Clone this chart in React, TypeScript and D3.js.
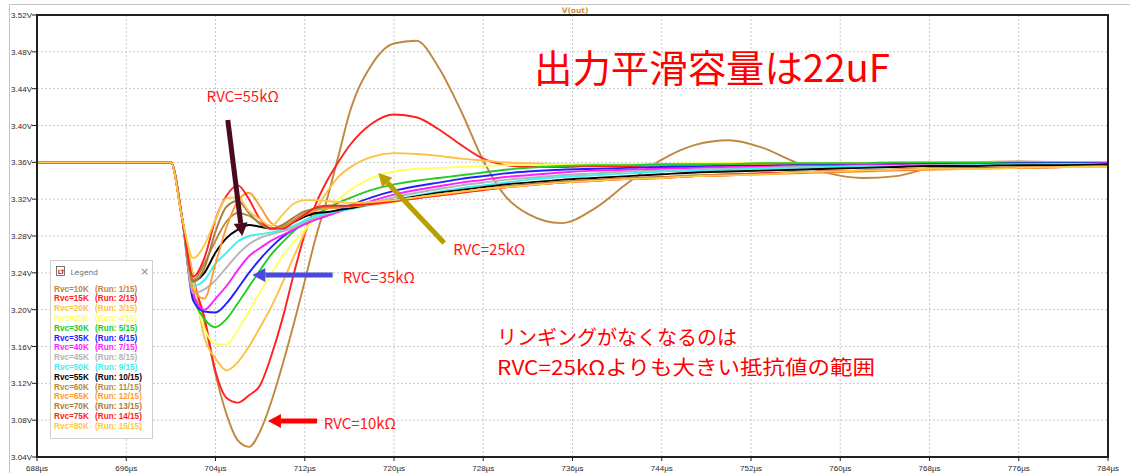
import * as d3 from "d3";

// time axis (µs) shared by every run
const times = [688, 700, 701, 702, 703, 704, 705, 706, 707, 708, 709, 710, 711, 712, 713, 714, 715, 716, 718, 720, 722, 724, 726, 728, 730, 732, 735, 738, 741, 744, 747, 750, 753, 756, 759, 762, 765, 768, 772, 776, 780, 784];

// V(out) for each .step run
const rvc10 = [3.36, 3.36, 3.30, 3.236, 3.187, 3.13, 3.086, 3.058, 3.051, 3.068, 3.1, 3.14, 3.184, 3.231, 3.279, 3.32, 3.366, 3.413, 3.466, 3.489, 3.492, 3.463, 3.416, 3.362, 3.323, 3.304, 3.294, 3.31, 3.338, 3.363, 3.379, 3.384, 3.376, 3.36, 3.348, 3.343, 3.345, 3.354, 3.36, 3.361, 3.36, 3.358];
const rvc15 = [3.36, 3.36, 3.30, 3.232, 3.192, 3.133, 3.104, 3.099, 3.107, 3.118, 3.15, 3.19, 3.238, 3.282, 3.315, 3.34, 3.36, 3.378, 3.402, 3.412, 3.409, 3.396, 3.379, 3.364, 3.357, 3.355, 3.355, 3.356, 3.356, 3.357, 3.357, 3.357, 3.358, 3.358, 3.358, 3.358, 3.358, 3.359, 3.359, 3.359, 3.359, 3.359];
const rvc20 = [3.36, 3.36, 3.30, 3.235, 3.17, 3.147, 3.134, 3.143, 3.16, 3.181, 3.203, 3.229, 3.257, 3.284, 3.308, 3.328, 3.344, 3.354, 3.366, 3.37, 3.369, 3.367, 3.364, 3.362, 3.36, 3.359, 3.358, 3.358, 3.358, 3.358, 3.358, 3.359, 3.359, 3.359, 3.359, 3.359, 3.359, 3.36, 3.36, 3.36, 3.36, 3.36];
const rvc25 = [3.36, 3.36, 3.30, 3.225, 3.18, 3.163, 3.162, 3.178, 3.198, 3.219, 3.239, 3.258, 3.273, 3.287, 3.299, 3.31, 3.32, 3.329, 3.343, 3.35, 3.353, 3.354, 3.355, 3.356, 3.357, 3.357, 3.358, 3.358, 3.358, 3.358, 3.359, 3.359, 3.359, 3.359, 3.359, 3.36, 3.36, 3.36, 3.36, 3.36, 3.36, 3.36];
const rvc30 = [3.36, 3.36, 3.30, 3.215, 3.19, 3.181, 3.19, 3.207, 3.225, 3.243, 3.26, 3.273, 3.285, 3.295, 3.303, 3.31, 3.316, 3.321, 3.33, 3.336, 3.34, 3.343, 3.346, 3.349, 3.352, 3.354, 3.356, 3.357, 3.357, 3.358, 3.358, 3.358, 3.359, 3.359, 3.359, 3.359, 3.36, 3.36, 3.36, 3.36, 3.36, 3.36];
const rvc35 = [3.36, 3.36, 3.30, 3.21, 3.198, 3.197, 3.207, 3.223, 3.24, 3.255, 3.268, 3.279, 3.287, 3.293, 3.298, 3.302, 3.308, 3.313, 3.322, 3.329, 3.334, 3.338, 3.342, 3.345, 3.348, 3.35, 3.352, 3.353, 3.354, 3.355, 3.355, 3.356, 3.356, 3.357, 3.357, 3.357, 3.358, 3.358, 3.358, 3.359, 3.359, 3.359];
const rvc40 = [3.36, 3.36, 3.30, 3.218, 3.2, 3.212, 3.226, 3.243, 3.258, 3.267, 3.275, 3.281, 3.287, 3.293, 3.298, 3.302, 3.306, 3.31, 3.318, 3.325, 3.33, 3.334, 3.338, 3.341, 3.344, 3.346, 3.349, 3.351, 3.352, 3.353, 3.354, 3.355, 3.355, 3.356, 3.356, 3.357, 3.357, 3.357, 3.358, 3.358, 3.358, 3.359];
const rvc45 = [3.36, 3.36, 3.30, 3.218, 3.222, 3.232, 3.246, 3.26, 3.271, 3.278, 3.282, 3.285, 3.289, 3.295, 3.3, 3.304, 3.307, 3.31, 3.316, 3.322, 3.327, 3.331, 3.335, 3.338, 3.341, 3.343, 3.346, 3.348, 3.35, 3.351, 3.352, 3.353, 3.354, 3.355, 3.355, 3.356, 3.356, 3.357, 3.357, 3.358, 3.358, 3.358];
const rvc50 = [3.36, 3.36, 3.30, 3.226, 3.232, 3.25, 3.262, 3.274, 3.28, 3.282, 3.284, 3.287, 3.291, 3.297, 3.302, 3.305, 3.307, 3.309, 3.314, 3.319, 3.324, 3.328, 3.332, 3.335, 3.338, 3.341, 3.344, 3.346, 3.348, 3.35, 3.351, 3.352, 3.353, 3.354, 3.355, 3.355, 3.356, 3.356, 3.357, 3.357, 3.358, 3.358];
const rvc55 = [3.36, 3.36, 3.30, 3.231, 3.24, 3.262, 3.278, 3.287, 3.292, 3.29, 3.288, 3.29, 3.295, 3.301, 3.305, 3.306, 3.308, 3.31, 3.315, 3.319, 3.323, 3.327, 3.33, 3.333, 3.336, 3.338, 3.341, 3.343, 3.345, 3.347, 3.349, 3.35, 3.351, 3.352, 3.353, 3.354, 3.355, 3.356, 3.356, 3.357, 3.357, 3.358];
const rvc60 = [3.36, 3.36, 3.30, 3.232, 3.25, 3.275, 3.296, 3.305, 3.302, 3.294, 3.288, 3.29, 3.297, 3.305, 3.309, 3.31, 3.311, 3.312, 3.315, 3.318, 3.322, 3.325, 3.328, 3.331, 3.334, 3.336, 3.339, 3.341, 3.343, 3.344, 3.346, 3.347, 3.348, 3.349, 3.35, 3.351, 3.352, 3.353, 3.354, 3.355, 3.355, 3.356];
const rvc65 = [3.36, 3.36, 3.30, 3.222, 3.212, 3.25, 3.29, 3.318, 3.327, 3.312, 3.294, 3.289, 3.296, 3.303, 3.308, 3.31, 3.311, 3.312, 3.314, 3.317, 3.321, 3.324, 3.327, 3.33, 3.333, 3.335, 3.338, 3.34, 3.342, 3.343, 3.345, 3.346, 3.347, 3.348, 3.349, 3.35, 3.351, 3.352, 3.353, 3.354, 3.355, 3.355];
const rvc70 = [3.36, 3.36, 3.30, 3.23, 3.245, 3.285, 3.312, 3.318, 3.305, 3.293, 3.288, 3.292, 3.3, 3.307, 3.31, 3.312, 3.312, 3.313, 3.315, 3.318, 3.321, 3.325, 3.328, 3.331, 3.333, 3.336, 3.338, 3.341, 3.342, 3.344, 3.345, 3.347, 3.348, 3.349, 3.35, 3.351, 3.352, 3.353, 3.354, 3.354, 3.355, 3.356];
const rvc75 = [3.36, 3.36, 3.30, 3.236, 3.256, 3.298, 3.324, 3.335, 3.32, 3.298, 3.288, 3.288, 3.295, 3.303, 3.311, 3.313, 3.313, 3.313, 3.315, 3.318, 3.321, 3.324, 3.327, 3.33, 3.333, 3.335, 3.338, 3.34, 3.342, 3.343, 3.345, 3.346, 3.348, 3.349, 3.35, 3.351, 3.352, 3.353, 3.354, 3.354, 3.355, 3.355];
const rvc80 = [3.36, 3.36, 3.30, 3.256, 3.27, 3.298, 3.321, 3.322, 3.307, 3.298, 3.291, 3.303, 3.315, 3.319, 3.319, 3.318, 3.317, 3.316, 3.317, 3.319, 3.322, 3.325, 3.328, 3.331, 3.333, 3.335, 3.338, 3.34, 3.342, 3.343, 3.345, 3.346, 3.347, 3.349, 3.35, 3.351, 3.352, 3.353, 3.353, 3.354, 3.355, 3.355];

const runLabels = ["10K", "15K", "20K", "25K", "30K", "35K", "40K", "45K", "50K", "55K", "60K", "65K", "70K", "75K", "80K"];
const runValues = [rvc10, rvc15, rvc20, rvc25, rvc30, rvc35, rvc40, rvc45, rvc50, rvc55, rvc60, rvc65, rvc70, rvc75, rvc80];
const runColors = ["#c0873f", "#ff2020", "#ffc040", "#ffff60", "#22cc22", "#2020ff", "#ff20ff", "#b4b4b4", "#40f0f0", "#000000", "#b58a3c", "#ff9a30", "#a87c40", "#ff2020", "#ffc848"];

const xTicks = d3.range(688, 785, 8);
const yTicks = d3.range(3.04, 3.5201, 0.04);

// annotation arrows, in chart units (µs, V)
const notes = [
  { text: "RVC=55kΩ", from: [705.1, 3.406], to: [706.4, 3.28], color: "#4a0a1c", at: [703.2, 3.425] },
  { text: "RVC=35kΩ", from: [714.5, 3.2376], to: [707.3, 3.2376], color: "#4a4ae0", at: [715.4, 3.2285] },
  { text: "RVC=25kΩ", from: [724.5, 3.2724], to: [718.6, 3.3484], color: "#b8a000", at: [725.3, 3.259] },
  { text: "RVC=10kΩ", from: [713.1, 3.079], to: [708.7, 3.079], color: "#ff0000", at: [713.7, 3.0705] },
];

const W = 1130;
const H = 473;
const margin = { top: 15, right: 22, bottom: 16, left: 37 };

function Arrow({ x1, y1, x2, y2, color }: { x1: number; y1: number; x2: number; y2: number; color: string }) {
  const ang = Math.atan2(y2 - y1, x2 - x1);
  const len = 13;
  const half = 7;
  const bx = x2 - len * Math.cos(ang);
  const by = y2 - len * Math.sin(ang);
  const px = -Math.sin(ang) * half;
  const py = Math.cos(ang) * half;
  return (
    <g>
      <line x1={x1} y1={y1} x2={bx} y2={by} stroke={color} strokeWidth={5} />
      <polygon points={`${x2},${y2} ${bx + px},${by + py} ${bx - px},${by - py}`} fill={color} />
    </g>
  );
}

export default function App() {
  const x = d3.scaleLinear().domain([688, 784]).range([margin.left, W - margin.right]);
  const y = d3.scaleLinear().domain([3.04, 3.52]).range([H - margin.bottom, margin.top]);

  const line = d3
    .line<number>()
    .x((_, i) => x(times[i]))
    .y((d) => y(d))
    .curve(d3.curveMonotoneX);

  const legX = 50.5;
  const legY = 260.5;

  return (
    <svg
      width={W}
      height={H}
      style={{ position: "fixed", left: 0, top: 0, background: "#fff" }}
      fontFamily="'DejaVu Sans', sans-serif"
    >
      <rect x={0} y={0} width={W} height={H} fill="#fff" />
      <line x1={9.5} y1={4.5} x2={W} y2={4.5} stroke="#c4c4c4" />
      <line x1={9.5} y1={4.5} x2={9.5} y2={H} stroke="#c4c4c4" />
      <text x={575} y={12.5} textAnchor="middle" fontSize={7.5} fill="#c8963c" fontWeight="bold">
        V(out)
      </text>

      {/* grid */}
      <g stroke="#c8c8c8" strokeDasharray="2,2" strokeWidth={1}>
        {xTicks.slice(1, -1).map((t) => (
          <line key={"gx" + t} x1={x(t)} x2={x(t)} y1={y(3.52)} y2={y(3.04)} />
        ))}
        {yTicks.slice(1, -1).map((v) => (
          <line key={"gy" + v} x1={x(688)} x2={x(784)} y1={y(v)} y2={y(v)} />
        ))}
      </g>

      {/* runs */}
      <g fill="none" strokeWidth={1.9} strokeLinejoin="round">
        {runValues.map((vals, i) => (
          <path key={runLabels[i]} d={line(vals) ?? ""} stroke={runColors[i]} />
        ))}
      </g>

      {/* frame */}
      <rect
        x={x(688)}
        y={y(3.52)}
        width={x(784) - x(688)}
        height={y(3.04) - y(3.52)}
        fill="none"
        stroke="#202020"
        strokeWidth={2}
      />

      {/* axes */}
      <g fontFamily="'Liberation Sans', sans-serif" fontSize={8} fill="#2a2a2a">
        {yTicks.map((v) => (
          <g key={"yt" + v}>
            <line x1={x(688) - 5} x2={x(688)} y1={y(v)} y2={y(v)} stroke="#202020" />
            <text x={x(688) - 5} y={y(v) + 3} textAnchor="end">
              {v.toFixed(2)}V
            </text>
          </g>
        ))}
        {xTicks.map((t) => (
          <g key={"xt" + t}>
            <line x1={x(t)} x2={x(t)} y1={y(3.04)} y2={y(3.04) + 4} stroke="#202020" />
            <text x={x(t)} y={471} textAnchor="middle">
              {t}µs
            </text>
          </g>
        ))}
      </g>

      {/* legend */}
      <g>
        <rect x={legX} y={legY} width={102} height={178} fill="#fff" stroke="#cfcfcf" />
        <g transform={`translate(${legX + 6},${legY + 6})`}>
          <rect x={0} y={0} width={8} height={9} fill="none" stroke="#555" strokeWidth={0.8} />
          <text x={1.2} y={7} fontSize={6} fill="#c02020" fontWeight="bold">
            LT
          </text>
        </g>
        <text x={legX + 20} y={legY + 14} fontSize={7.5} fill="#707070">
          Legend
        </text>
        <text x={legX + 94} y={legY + 14.5} fontSize={11} fill="#8a8a8a" textAnchor="middle">
          ×
        </text>
        <g fontFamily="'Liberation Sans', sans-serif" fontSize={8.2} fontWeight="bold">
          {runLabels.map((lab, i) => (
            <g key={"lg" + lab} fill={runColors[i]}>
              <text x={legX + 3.5} y={legY + 31 + i * 9.8}>
                Rvc={lab}
              </text>
              <text x={legX + 44.5} y={legY + 31 + i * 9.8}>
                (Run: {i + 1}/15)
              </text>
            </g>
          ))}
        </g>
      </g>

      {/* annotations */}
      <g fontFamily="'Noto Sans CJK JP', 'Noto Sans', sans-serif" fill="#ff1a1a">
        {notes.map((n) => (
          <g key={n.text}>
            <Arrow x1={x(n.from[0])} y1={y(n.from[1])} x2={x(n.to[0])} y2={y(n.to[1])} color={n.color} />
            <text x={x(n.at[0])} y={y(n.at[1])} fontSize={15}>
              {n.text}
            </text>
          </g>
        ))}
        <text x={534} y={82} fontSize={38} fill="#ff0000" textLength={356} lengthAdjust="spacingAndGlyphs">
          出力平滑容量は22uF
        </text>
        <text x={497} y={345} fontSize={20} fill="#ff0000">
          リンギングがなくなるのは
        </text>
        <text x={497} y={375} fontSize={20} fill="#ff0000" textLength={378} lengthAdjust="spacingAndGlyphs">
          RVC=25kΩよりも大きい抵抗値の範囲
        </text>
      </g>
    </svg>
  );
}
